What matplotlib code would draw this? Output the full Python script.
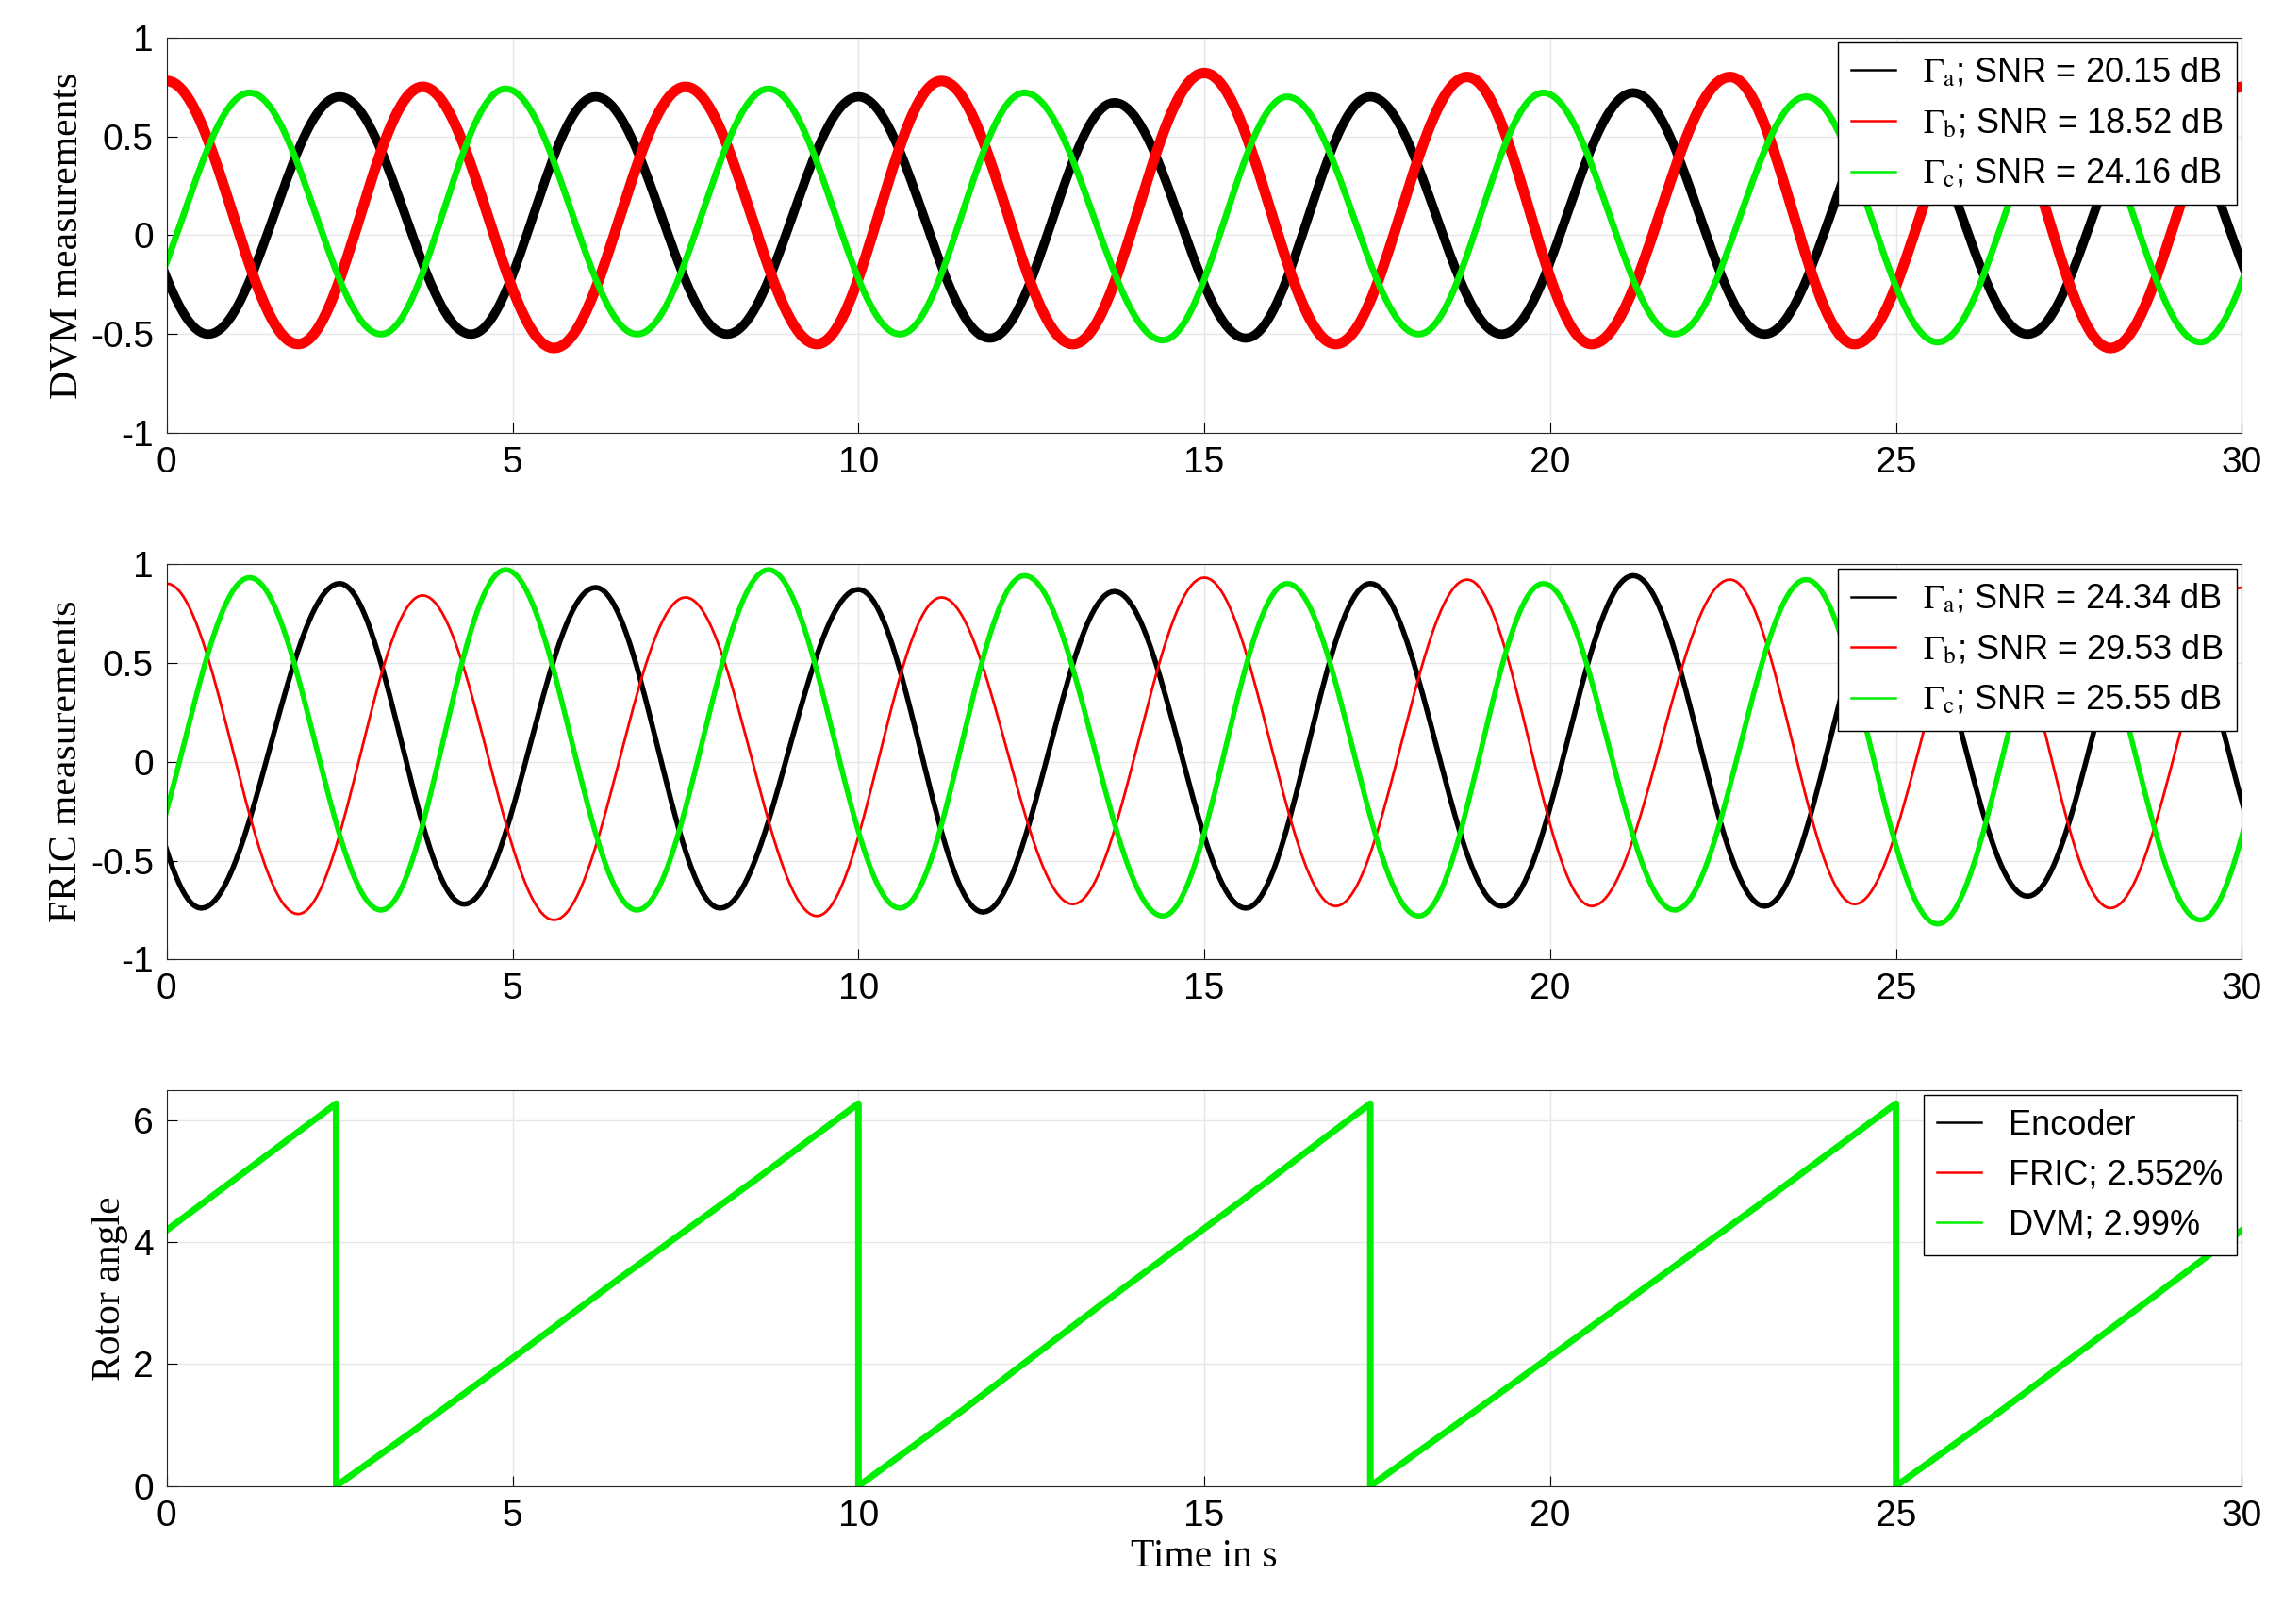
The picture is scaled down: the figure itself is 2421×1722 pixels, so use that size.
import numpy as np
import matplotlib
matplotlib.use("Agg")
import matplotlib.pyplot as plt

# --- extrema (time in s, value) ---
DVM_A_T = [-1.25, 0.6, 2.5, 4.4, 6.2, 8.1, 10.0, 11.9, 13.7, 15.6, 17.4, 19.3, 21.2, 23.1, 25.0, 26.9, 28.8, 30.7]
DVM_A_V = [0.7, -0.5, 0.7, -0.5, 0.7, -0.5, 0.7, -0.52, 0.67, -0.52, 0.7, -0.5, 0.72, -0.5, 0.7, -0.5, 0.7, -0.5]
DVM_B_T = [0.0, 1.9, 3.7, 5.6, 7.5, 9.4, 11.2, 13.1, 15.0, 16.9, 18.8, 20.6, 22.6, 24.4, 26.3, 28.1, 30.0]
DVM_B_V = [0.78, -0.55, 0.75, -0.57, 0.75, -0.55, 0.78, -0.55, 0.82, -0.55, 0.8, -0.55, 0.8, -0.55, 0.75, -0.57, 0.75]
DVM_C_T = [-0.7, 1.2, 3.1, 4.9, 6.8, 8.7, 10.6, 12.4, 14.4, 16.2, 18.1, 19.9, 21.8, 23.7, 25.6, 27.5, 29.4, 31.2]
DVM_C_V = [-0.5, 0.72, -0.5, 0.74, -0.5, 0.74, -0.5, 0.72, -0.53, 0.7, -0.5, 0.72, -0.5, 0.7, -0.54, 0.7, -0.54, 0.7]

FRIC_A_T = [-1.3, 0.5, 2.5, 4.3, 6.2, 8.0, 10.0, 11.8, 13.7, 15.6, 17.4, 19.3, 21.2, 23.1, 25.0, 26.9, 28.8, 30.7]
FRIC_A_V = [0.9, -0.74, 0.9, -0.72, 0.88, -0.74, 0.87, -0.76, 0.86, -0.74, 0.9, -0.73, 0.94, -0.73, 0.96, -0.68, 0.96, -0.7]
FRIC_B_T = [0.0, 1.9, 3.7, 5.6, 7.5, 9.4, 11.2, 13.1, 15.0, 16.9, 18.8, 20.6, 22.6, 24.4, 26.3, 28.1, 30.0]
FRIC_B_V = [0.9, -0.77, 0.84, -0.8, 0.83, -0.78, 0.83, -0.72, 0.93, -0.73, 0.92, -0.73, 0.92, -0.72, 0.9, -0.74, 0.88]
FRIC_C_T = [-0.7, 1.2, 3.1, 4.9, 6.8, 8.7, 10.6, 12.4, 14.4, 16.2, 18.1, 19.9, 21.8, 23.7, 25.6, 27.5, 29.4, 31.2]
FRIC_C_V = [-0.75, 0.93, -0.75, 0.97, -0.75, 0.97, -0.74, 0.94, -0.78, 0.9, -0.78, 0.9, -0.75, 0.92, -0.82, 0.9, -0.8, 0.9]

# rotor angle knots (sawtooth, wraps at 2*pi)
ENC_T = [0.0, 2.45, 2.451, 10.0, 10.001, 17.4, 17.401, 25.0, 25.001, 30.0]
ENC_V = [4.2, 6.28, 0.0, 6.28, 0.0, 6.28, 0.0, 6.28, 0.0, 4.2]
FRIC_T = [0.0, 1.0, 2.45, 2.451, 3.5, 5.0, 6.5, 8.5, 10.0, 10.001, 11.5, 13.5, 15.5, 17.4, 17.401, 19.0, 21.0, 23.0, 25.0, 25.001, 26.5, 28.5, 30.0]
FRIC_V = [4.2, 5.05, 6.28, 0.0, 0.82, 2.1, 3.35, 5.0, 6.28, 0.0, 1.2, 2.95, 4.62, 6.28, 0.0, 1.3, 2.92, 4.6, 6.28, 0.0, 1.2, 2.9, 4.2]
DVM_T = FRIC_T
DVM_V = [4.2, 5.05, 6.28, 0.0, 0.85, 2.1, 3.37, 5.02, 6.28, 0.0, 1.24, 2.97, 4.65, 6.28, 0.0, 1.3, 2.95, 4.6, 6.28, 0.0, 1.22, 2.92, 4.2]

LEG_DVM = [r"$\Gamma_\mathrm{a}$; SNR = 20.15 dB", r"$\Gamma_\mathrm{b}$; SNR = 18.52 dB", r"$\Gamma_\mathrm{c}$; SNR = 24.16 dB"]
LEG_FRIC = [r"$\Gamma_\mathrm{a}$; SNR = 24.34 dB", r"$\Gamma_\mathrm{b}$; SNR = 29.53 dB", r"$\Gamma_\mathrm{c}$; SNR = 25.55 dB"]
LEG_ANG = ["Encoder", "FRIC; 2.552%", "DVM; 2.99%"]

COLORS = ["black", "red", "#00ee00"]


def wave(tk, vk, n=40):
    # join successive extrema with half-cosine segments
    ts, vs = [], []
    for i in range(len(tk) - 1):
        s = np.linspace(0, 1, n, endpoint=False)
        ts.append(tk[i] + (tk[i + 1] - tk[i]) * s)
        vs.append(vk[i] + (vk[i + 1] - vk[i]) * (1 - np.cos(np.pi * s)) / 2)
    ts.append([tk[-1]]); vs.append([vk[-1]])
    return np.concatenate(ts), np.concatenate(vs)


plt.rcParams["font.family"] = "Liberation Sans"
plt.rcParams["mathtext.fontset"] = "stix"
fig, axes = plt.subplots(3, 1, figsize=(24.21, 17.22), dpi=100)
fig.subplots_adjust(left=0.073, right=0.982, top=0.977, bottom=0.085, hspace=0.33)

serif = {"family": "Liberation Serif", "size": 30}

panels = [
    (axes[0], [(DVM_A_T, DVM_A_V), (DVM_B_T, DVM_B_V), (DVM_C_T, DVM_C_V)], [7, 8, 5], LEG_DVM, "DVM measurements"),
    (axes[1], [(FRIC_A_T, FRIC_A_V), (FRIC_B_T, FRIC_B_V), (FRIC_C_T, FRIC_C_V)], [4, 2, 4], LEG_FRIC, "FRIC measurements"),
]
for ax, series, widths, labels, ylab in panels:
    for (tk, vk), c, w, lab in zip(series, COLORS, widths, labels):
        t, v = wave(tk, vk)
        ax.plot(t, v, color=c, lw=w, label=lab)
    ax.set_ylim(-1, 1)
    ax.set_yticks([-1, -0.5, 0, 0.5, 1])
    ax.set_yticklabels(["-1", "-0.5", "0", "0.5", "1"])
    ax.set_ylabel(ylab, fontdict=serif)
    leg = ax.legend(loc="upper right", fontsize=26, handlelength=1.3, borderaxespad=0.15,
                    fancybox=False, framealpha=1, edgecolor="black")
    for h in leg.get_lines():
        h.set_linewidth(1.8)

ax = axes[2]
ax.plot(ENC_T, ENC_V, color="black", lw=1.5, label=LEG_ANG[0])
ax.plot(FRIC_T, FRIC_V, color="red", lw=2, label=LEG_ANG[1])
ax.plot(DVM_T, DVM_V, color=COLORS[2], lw=5, label=LEG_ANG[2])
ax.set_ylim(0, 6.5)
ax.set_yticks([0, 2, 4, 6])
ax.set_ylabel("Rotor angle", fontdict=serif)
ax.set_xlabel("Time in s", fontdict=serif)
leg = ax.legend(loc="upper right", fontsize=26, handlelength=1.3, borderaxespad=0.15,
                fancybox=False, framealpha=1, edgecolor="black")
for h in leg.get_lines():
    h.set_linewidth(1.8)

for ax in axes:
    ax.set_xlim(0, 30)
    ax.set_xticks([0, 5, 10, 15, 20, 25, 30])
    ax.grid(True, color="#e6e6e6", lw=1)
    ax.tick_params(labelsize=28, direction="in", length=8, pad=10)
    for s in ax.spines.values():
        s.set_color("#262626")

fig.savefig("out.png")
